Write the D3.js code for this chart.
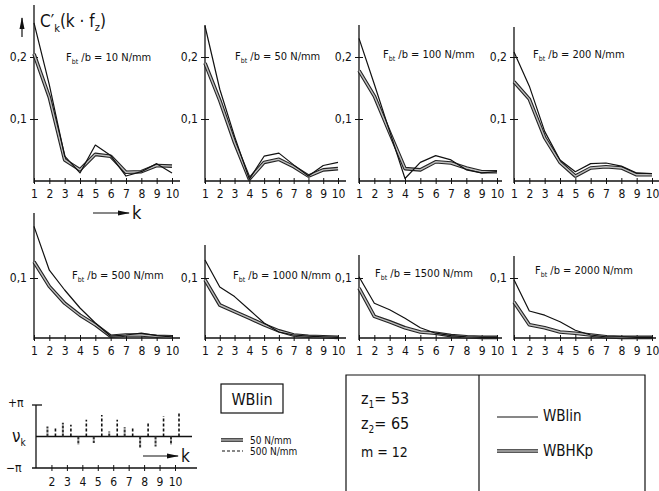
<!DOCTYPE html>
<html>
<head>
<meta charset="utf-8">
<script src="https://cdn.jsdelivr.net/npm/d3@7"></script>
<style>
  body { margin: 0; background: #fff; }
  svg text { font-family: 'DejaVu Sans Condensed', 'DejaVu Sans', sans-serif; fill: #111; }
</style>
</head>
<body>
<div id="chart"></div>
<script>
// Data
var ks = [1, 2, 3, 4, 5, 6, 7, 8, 9, 10];
var loads = [10, 50, 100, 200, 500, 1000, 1500, 2000];

// WBlin (thin line), one row per load
var wblin = [
  [0.255, 0.155, 0.040, 0.013, 0.058, 0.041, 0.008, 0.015, 0.028, 0.013],
  [0.250, 0.148, 0.072, 0.003, 0.040, 0.045, 0.026, 0.008, 0.025, 0.030],
  [0.230, 0.156, 0.080, 0.004, 0.030, 0.041, 0.034, 0.018, 0.013, 0.015],
  [0.208, 0.153, 0.080, 0.034, 0.015, 0.028, 0.029, 0.024, 0.013, 0.012],
  [0.186, 0.113, 0.080, 0.050, 0.025, 0.003, 0.005, 0.008, 0.004, 0.002],
  [0.130, 0.085, 0.069, 0.047, 0.025, 0.010, 0.005, 0.003, 0.002, 0.001],
  [0.102, 0.058, 0.047, 0.033, 0.017, 0.008, 0.004, 0.002, 0.001, 0.001],
  [0.097, 0.045, 0.038, 0.027, 0.013, 0.005, 0.002, 0.002, 0.001, 0.001]
];

// WBHKp (double line)
var wbhkp = [
  [0.205, 0.135, 0.034, 0.018, 0.043, 0.040, 0.014, 0.015, 0.025, 0.024],
  [0.190, 0.130, 0.062, 0.003, 0.030, 0.035, 0.023, 0.008, 0.018, 0.020],
  [0.178, 0.137, 0.078, 0.020, 0.018, 0.031, 0.029, 0.021, 0.015, 0.015],
  [0.160, 0.132, 0.070, 0.030, 0.008, 0.021, 0.023, 0.021, 0.010, 0.010],
  [0.127, 0.086, 0.058, 0.038, 0.022, 0.003, 0.005, 0.005, 0.003, 0.002],
  [0.097, 0.055, 0.044, 0.033, 0.022, 0.012, 0.005, 0.003, 0.002, 0.001],
  [0.083, 0.036, 0.027, 0.017, 0.010, 0.008, 0.004, 0.002, 0.001, 0.001],
  [0.060, 0.022, 0.017, 0.010, 0.008, 0.005, 0.002, 0.001, 0.001, 0.001]
];

// phase angle (fraction of pi), k = 2..10
var phaseK = [2, 3, 4, 5, 6, 7, 8, 9, 10];
var phase50 = [0.32, 0.44, -0.26, -0.21, 0.16, 0.29, -0.37, -0.32, -0.26];
var phase500 = [0.29, 0.37, 0.53, 0.68, 0.53, 0.29, 0.44, 0.65, 0.76];

var yTicksTop = [0.1, 0.2];
var yTicksBottom = [0.1];

// panel layout (pixels)
var cols = [[34, 172], [205, 338], [359, 497], [514, 652]];
var rows = [
  { base: 181, y01: 119, ticks: yTicksTop },
  { base: 338, y01: 278, ticks: yTicksBottom }
];
var axisTops = [5, 25, 25, 27, 213, 245, 255, 256];
var axisEnds = [180, 346, 502, 659, 180, 346, 502, 656];
var labelPos = [[66, 61], [235, 60], [383, 58], [533, 58], [72, 279], [233, 279], [375, 277], [535, 274]];

var svg = d3.select('#chart').append('svg')
  .attr('width', 659)
  .attr('height', 491);

var defs = svg.append('defs');
defs.append('marker')
  .attr('id', 'arr')
  .attr('viewBox', '0 0 12 6')
  .attr('refX', 11).attr('refY', 3)
  .attr('markerWidth', 12).attr('markerHeight', 6)
  .attr('markerUnits', 'userSpaceOnUse')
  .attr('orient', 'auto')
  .append('path')
  .attr('d', 'M0,0.5 L12,3 L0,5.5 Z')
  .attr('fill', '#111');

var comma = function(d) { return String(d).replace('.', ','); };

function drawDouble(g, data, line) {
  g.append('path').datum(data)
    .attr('d', line).attr('fill', 'none')
    .attr('stroke', '#222').attr('stroke-width', 3.6)
    .attr('stroke-linejoin', 'round');
  g.append('path').datum(data)
    .attr('d', line).attr('fill', 'none')
    .attr('stroke', '#bdbdbd').attr('stroke-width', 1.4)
    .attr('stroke-linejoin', 'round');
}

loads.forEach(function(load, i) {
  var row = rows[Math.floor(i / 4)];
  var col = cols[i % 4];

  var x = d3.scaleLinear().domain([1, 10]).range(col);
  var y = d3.scaleLinear().domain([0, 0.1]).range([row.base, row.y01]);

  var g = svg.append('g');

  // x axis
  var xAxis = d3.axisBottom(x).tickValues(ks).tickSize(3).tickPadding(5);
  var gx = g.append('g')
    .attr('transform', 'translate(0,' + row.base + ')')
    .call(xAxis);
  gx.select('.domain').remove();
  gx.selectAll('.tick line').attr('y1', -3).attr('y2', 3).attr('stroke', '#111');
  gx.selectAll('.tick text').attr('font-size', 12).attr('fill', '#111');
  g.append('line')
    .attr('x1', col[0]).attr('x2', axisEnds[i])
    .attr('y1', row.base).attr('y2', row.base)
    .attr('stroke', '#111').attr('stroke-width', 1.3);

  // y axis
  var yAxis = d3.axisLeft(y).tickValues(row.ticks).tickFormat(comma).tickSize(4).tickPadding(3);
  var gy = g.append('g')
    .attr('transform', 'translate(' + col[0] + ',0)')
    .call(yAxis);
  gy.select('.domain').remove();
  gy.selectAll('.tick line').attr('x1', -4).attr('x2', 4).attr('stroke', '#111');
  gy.selectAll('.tick text').attr('font-size', 12).attr('fill', '#111');
  g.append('line')
    .attr('x1', col[0]).attr('x2', col[0])
    .attr('y1', axisTops[i]).attr('y2', row.base + 2)
    .attr('stroke', '#111').attr('stroke-width', 1.3);

  var line = d3.line()
    .x(function(d, j) { return x(ks[j]); })
    .y(function(d) { return y(d); });

  drawDouble(g, wbhkp[i], line);
  g.append('path').datum(wblin[i])
    .attr('d', line).attr('fill', 'none')
    .attr('stroke', '#111').attr('stroke-width', 1.2)
    .attr('stroke-linejoin', 'round');

  // panel title
  var t = g.append('text')
    .attr('x', labelPos[i][0]).attr('y', labelPos[i][1])
    .attr('font-size', 11);
  t.append('tspan').text('F');
  t.append('tspan').attr('font-size', 7).attr('dy', 3).text('bt');
  t.append('tspan').attr('dy', -3).text(' /b = ' + load + ' N/mm');
});

// y axis title and arrows of the first panel
var title = svg.append('text').attr('x', 40).attr('y', 27).attr('font-size', 17);
title.append('tspan').text('C\u2032');
title.append('tspan').attr('font-size', 11).attr('dy', 5).text('k');
title.append('tspan').attr('dy', -5).text('(k \u00b7 f');
title.append('tspan').attr('font-size', 11).attr('dy', 4).text('z');
title.append('tspan').attr('dy', -4).text(')');

svg.append('line')
  .attr('x1', 22).attr('x2', 22).attr('y1', 37).attr('y2', 18)
  .attr('stroke', '#111').attr('stroke-width', 1.2)
  .attr('marker-end', 'url(#arr)');

svg.append('line')
  .attr('x1', 93).attr('x2', 129).attr('y1', 213).attr('y2', 213)
  .attr('stroke', '#111').attr('stroke-width', 1.2)
  .attr('marker-end', 'url(#arr)');
svg.append('text').attr('x', 132).attr('y', 219).attr('font-size', 18).text('k');

// phase diagram
var px = d3.scaleLinear().domain([1, 10]).range([36, 175]);
var py = d3.scaleLinear().domain([-1, 1]).range([468, 405]);

var gp = svg.append('g');
gp.append('line').attr('x1', 36).attr('x2', 36).attr('y1', 405).attr('y2', 468)
  .attr('stroke', '#111').attr('stroke-width', 1.3);
gp.append('line').attr('x1', 32).attr('x2', 42).attr('y1', py(1)).attr('y2', py(1))
  .attr('stroke', '#111').attr('stroke-width', 1.3);
gp.append('line').attr('x1', 36).attr('x2', 192).attr('y1', py(0)).attr('y2', py(0))
  .attr('stroke', '#111').attr('stroke-width', 1.3);

var pAxis = d3.axisBottom(px).tickValues(phaseK).tickSize(3).tickPadding(6);
var gpx = gp.append('g').attr('transform', 'translate(0,' + py(-1) + ')').call(pAxis);
gpx.select('.domain').remove();
gpx.selectAll('.tick line').attr('y1', -3).attr('y2', 3).attr('stroke', '#111');
gpx.selectAll('.tick text').attr('font-size', 12).attr('fill', '#111');
gp.append('line').attr('x1', 32).attr('x2', 197).attr('y1', py(-1)).attr('y2', py(-1))
  .attr('stroke', '#111').attr('stroke-width', 1.3);

gp.selectAll('.p50').data(phase50).enter().append('line')
  .attr('x1', function(d, j) { return px(phaseK[j]) - 4; })
  .attr('x2', function(d, j) { return px(phaseK[j]) - 4; })
  .attr('y1', py(0)).attr('y2', function(d) { return py(d); })
  .attr('stroke', '#333').attr('stroke-width', 2)
  .attr('stroke-dasharray', '3,1');
gp.selectAll('.p500').data(phase500).enter().append('line')
  .attr('x1', function(d, j) { return px(phaseK[j]) + 4; })
  .attr('x2', function(d, j) { return px(phaseK[j]) + 4; })
  .attr('y1', py(0)).attr('y2', function(d) { return py(d); })
  .attr('stroke', '#111').attr('stroke-width', 1.6)
  .attr('stroke-dasharray', '3,2');

gp.append('text').attr('x', 8).attr('y', 407).attr('font-size', 12).text('+\u03c0');
gp.append('text').attr('x', 6).attr('y', 472).attr('font-size', 12).text('\u2212\u03c0');
var nu = gp.append('text').attr('x', 12).attr('y', 442).attr('font-size', 17);
nu.append('tspan').text('\u03bd');
nu.append('tspan').attr('font-size', 10).attr('dy', 4).text('k');

gp.append('line')
  .attr('x1', 143).attr('x2', 178).attr('y1', 456).attr('y2', 456)
  .attr('stroke', '#111').attr('stroke-width', 1.2)
  .attr('marker-end', 'url(#arr)');
gp.append('text').attr('x', 181).attr('y', 462).attr('font-size', 17).text('k');

// WBlin legend box
svg.append('rect').attr('x', 221).attr('y', 384).attr('width', 62).attr('height', 29)
  .attr('fill', 'none').attr('stroke', '#111').attr('stroke-width', 1.2);
svg.append('text').attr('x', 252).attr('y', 405).attr('text-anchor', 'middle')
  .attr('font-size', 16).text('WBlin');

var dbl = d3.line();
drawDouble(svg, [[221, 440], [243, 440]], dbl);
svg.append('text').attr('x', 250).attr('y', 444).attr('font-size', 10).text('50 N/mm');
svg.append('line').attr('x1', 222).attr('x2', 243).attr('y1', 451).attr('y2', 451)
  .attr('stroke', '#111').attr('stroke-width', 1.2).attr('stroke-dasharray', '3,2');
svg.append('text').attr('x', 250).attr('y', 455).attr('font-size', 10).text('500 N/mm');

// parameter box
svg.append('path').attr('d', 'M346,491 V375 H645 V491')
  .attr('fill', 'none').attr('stroke', '#111').attr('stroke-width', 1.2);
svg.append('line').attr('x1', 479).attr('x2', 479).attr('y1', 375).attr('y2', 491)
  .attr('stroke', '#111').attr('stroke-width', 1.2);

var params = [['z', '1', '= 53', 404], ['z', '2', '= 65', 429]];
params.forEach(function(p) {
  var tt = svg.append('text').attr('x', 361).attr('y', p[3]).attr('font-size', 16);
  tt.append('tspan').text(p[0]);
  tt.append('tspan').attr('font-size', 10).attr('dy', 4).text(p[1]);
  tt.append('tspan').attr('dy', -4).text(p[2]);
});
svg.append('text').attr('x', 361).attr('y', 457).attr('font-size', 14).text('m = 12');

svg.append('line').attr('x1', 497).attr('x2', 538).attr('y1', 417).attr('y2', 417)
  .attr('stroke', '#111').attr('stroke-width', 1.2);
svg.append('text').attr('x', 543).attr('y', 421).attr('font-size', 15).text('WBlin');
drawDouble(svg, [[497, 451], [538, 451]], dbl);
svg.append('text').attr('x', 543).attr('y', 456).attr('font-size', 15).text('WBHKp');
</script>
</body>
</html>
